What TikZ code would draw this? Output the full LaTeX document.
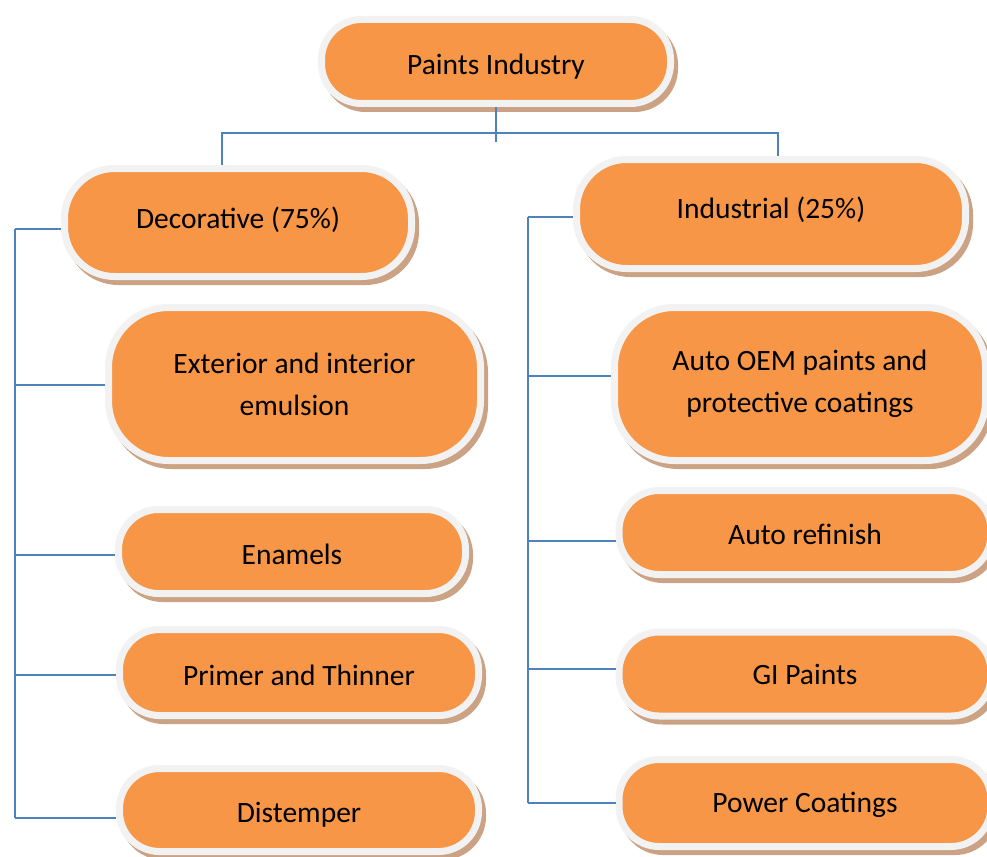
\documentclass[tikz,border=0pt]{standalone}
\usepackage{fontspec}
\setmainfont{Carlito}
\definecolor{paintorange}{HTML}{F79646}
\definecolor{rimgray}{HTML}{F2F2F2}
\definecolor{shadowbrown}{HTML}{CBA283}
\definecolor{linkblue}{HTML}{4F81BD}
\newcommand{\dropby}[2]{\raisebox{-#1}[\height][\depth]{#2}}

\begin{document}
\begin{tikzpicture}[x=1pt,y=-1pt,
    paintbox/.style={
        rectangle,
        rounded corners=40pt,
        draw=rimgray,
        fill=paintorange,
        line width=7pt,
        inner sep=0pt,
        align=center,
        font=\fontsize{29.5}{42}\selectfont,
        preaction={fill=shadowbrown,draw=shadowbrown,line width=7pt,
            transform canvas={xshift=4pt,yshift=-5pt}}},
    tallbox/.style={paintbox,rounded corners=60pt,minimum height=153pt},
    link/.style={draw=linkblue,line width=1.6pt}
    ]
    \useasboundingbox[fill=white] (0,0) rectangle (987,856);

    \node[paintbox,minimum width=349pt,minimum height=84pt] (root) at (496,61.5) {\dropby{5pt}{Paints Industry}};

    \node[paintbox,rounded corners=50pt,minimum width=347pt,minimum height=108pt] (dec) at (238,222.5) {\raisebox{10pt}{Decorative (75\%)}};
    \node[paintbox,rounded corners=50pt,minimum width=389pt,minimum height=109pt] (ind) at (771,214) {\raisebox{12pt}{Industrial (25\%)}};

    % decorative side
    \node[tallbox,minimum width=372pt] (ext) at (294.5,384) {Exterior and interior\\emulsion};
    \node[paintbox,minimum width=347pt,minimum height=84pt] (ena) at (292,551.5) {\dropby{3pt}{Enamels}};
    \node[paintbox,minimum width=359pt,minimum height=86pt] (pri) at (299,672.5) {\dropby{3pt}{Primer and Thinner}};
    \node[paintbox,minimum width=359pt,minimum height=83pt] (dis) at (299,810) {\dropby{5pt}{Distemper}};

    % industrial side
    \node[tallbox,minimum width=371pt] (oem) at (800,384) {Auto OEM paints and\\protective coatings};
    \node[paintbox,minimum width=372pt,minimum height=84pt] (ref) at (805,532.5) {\dropby{2pt}{Auto refinish}};
    \node[paintbox,minimum width=372pt,minimum height=84pt] (gip) at (805,674) {GI Paints};
    \node[paintbox,minimum width=372pt,minimum height=87pt] (pow) at (805,803) {\dropby{2pt}{Power Coatings}};

    % top bar
    \coordinate (barL) at (222,133);
    \coordinate (barR) at (778,133);
    \coordinate (tick) at (497,142);
    \draw[link] (root.south) -- (root.south |- tick);
    \draw[link] (barL |- dec.north) -- (barL) -- (barR) -- (barR |- ind.north);

    % trunks
    \coordinate (ltop) at (15,229);
    \coordinate (lbot) at (15,818);
    \coordinate (rtop) at (528,217);
    \coordinate (rbot) at (528,803);
    \draw[link] (ltop) -- (lbot);
    \draw[link] (rtop) -- (rbot);

    \foreach \n/\dy/\t in {% node/offset of branch below its centre/trunk
        dec/6.5/ltop,
        ext/1/ltop,
        ena/3.5/ltop,
        pri/2.5/ltop,
        dis/8/ltop,
        ind/3/rtop,
        oem/-8/rtop,
        ref/8.5/rtop,
        gip/-5/rtop,
        pow/0/rtop}
        \draw[link] ([yshift=-\dy pt]\n.west) -- ([yshift=-\dy pt]\n.west -| \t);

    \end{tikzpicture}
\end{document}
